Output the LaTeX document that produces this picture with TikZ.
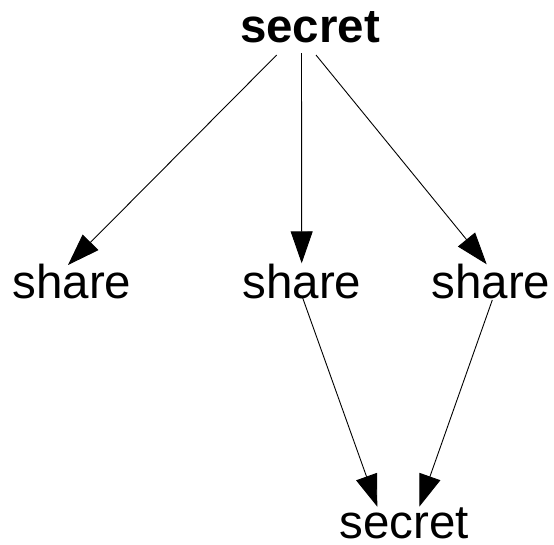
\documentclass[tikz,border=0pt]{standalone}
\usepackage{fontspec}
\setmainfont{Liberation Sans}
\usetikzlibrary{arrows.meta,calc}
\tikzset{
  lbl/.style={inner sep=0pt, anchor=base, font=\fontsize{47.5}{50}\selectfont},
  edge/.style={line width=0.9pt, -{Triangle[length=32pt,width=22pt]}},
}
\begin{document}
\begin{tikzpicture}[x=1pt,y=-1pt]
\useasboundingbox (0,0) rectangle (554,544);
% labels
\node[lbl, font=\fontsize{47.5}{50}\selectfont\bfseries] (top) at (310,42) {secret};
\node[lbl] (sa) at (72,298) {share};
\node[lbl] (sb) at (302,298) {share};
\node[lbl] (sc) at (491,298) {share};
\node[lbl] (bot) at (404,538) {secret};
% edge end points around the labels
\coordinate (ta) at ($(top.base)+(-33.3,13)$);
\coordinate (tb) at ($(top.base)+(-8.5,11)$);
\coordinate (tc) at ($(top.base)+(6,13)$);
\coordinate (ia) at ($(sa.base)+(-4,-33)$);
\coordinate (ib) at ($(sb.base)+(-0.3,-34.7)$);
\coordinate (ic) at ($(sc.base)+(-4.3,-33.7)$);
\coordinate (ob) at ($(sb.base)+(0.7,0)$);
\coordinate (oc) at ($(sc.base)+(1.3,2)$);
\coordinate (ba) at ($(bot.base)+(-26.7,-31.3)$);
\coordinate (bc) at ($(bot.base)+(15.3,-31.3)$);
% connectors
\draw[edge] (ta) -- (ia);
\draw[edge] (tb) -- (ib);
\draw[edge] (tc) -- (ic);
\draw[edge] (ob) -- (ba);
\draw[edge] (oc) -- (bc);
\end{tikzpicture}
\end{document}
